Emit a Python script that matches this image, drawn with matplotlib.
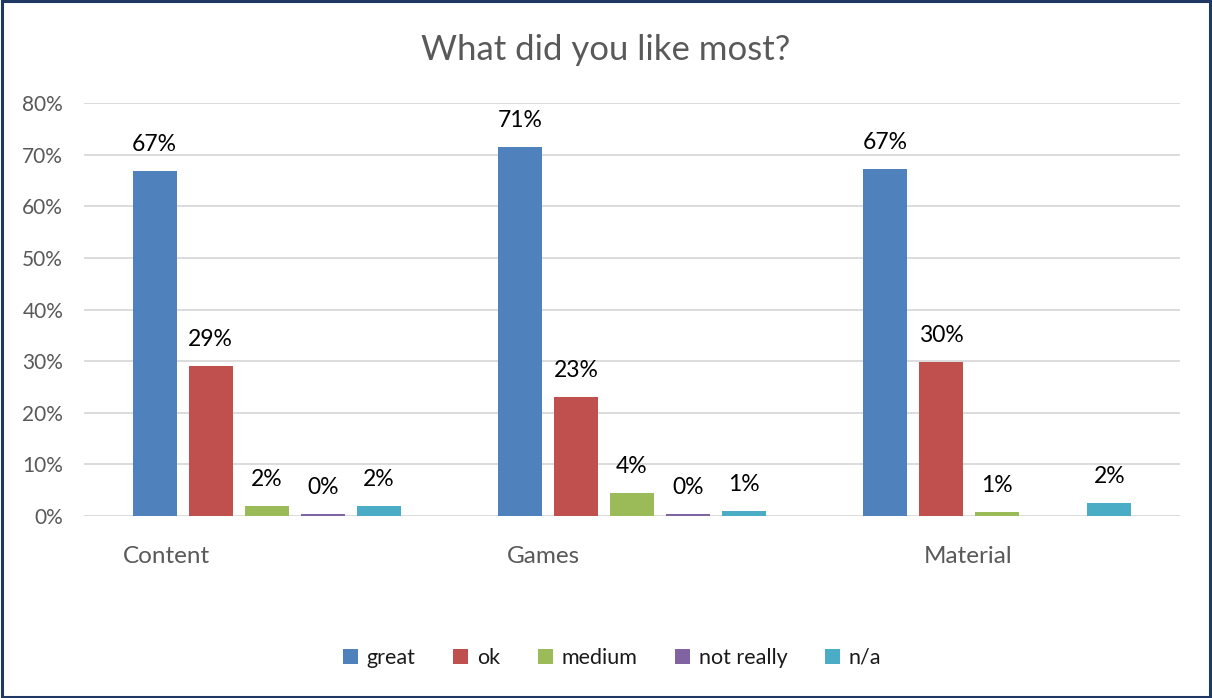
import numpy as np
import matplotlib
matplotlib.use("Agg")
import matplotlib.pyplot as plt
from matplotlib.patches import Rectangle

plt.rcParams['font.family'] = ['Lato', 'DejaVu Sans']

categories = ['Content', 'Games', 'Material']
series = ['great', 'ok', 'medium', 'not really', 'n/a']
colors = ['#4F81BD', '#C0504D', '#9BBB59', '#8064A2', '#4BACC6']

# values in percent, one list per series (Content, Games, Material)
great = [66.9, 71.5, 67.2]
ok = [29.1, 23.1, 29.8]
medium = [1.9, 4.5, 0.8]
not_really = [0.4, 0.4, 0.0]
na = [1.9, 1.0, 2.5]

labels_great = ['67%', '71%', '67%']
labels_ok = ['29%', '23%', '30%']
labels_medium = ['2%', '4%', '1%']
labels_not_really = ['0%', '0%', '']
labels_na = ['2%', '1%', '2%']

values = [great, ok, medium, not_really, na]
labels = [labels_great, labels_ok, labels_medium, labels_not_really, labels_na]

fig = plt.figure(figsize=(12.12, 6.98), dpi=100)
ax = fig.add_axes([84/1212, 182/698, 1096/1212, 413/698])

x = np.arange(len(categories))
width = 0.1205
step = 0.1533
for k, (vals, labs) in enumerate(zip(values, labels)):
    pos = x + (k - 2) * step
    bars = ax.bar(pos, np.array(vals) / 100, width, color=colors[k], label=series[k], zorder=3)
    for b, lab in zip(bars, labs):
        if lab:
            ax.annotate(lab, (b.get_x() + b.get_width() / 2, b.get_height()),
                        xytext=(0, 19), textcoords='offset points',
                        ha='center', va='center', fontsize=16.5, color='black')

ax.set_xlim(-0.5, 2.5)
ax.set_ylim(0, 0.8)
ax.set_yticks(np.arange(0, 0.81, 0.1))
ax.set_yticklabels([f'{int(round(v*100))}%' for v in np.arange(0, 0.81, 0.1)])
ax.tick_params(axis='y', length=0, labelsize=15, labelcolor='#595959', pad=15)
ax.tick_params(axis='x', length=0)
ax.set_xticks([])
ax.grid(axis='y', color='#D9D9D9', linewidth=1.3, zorder=0)
for s in ax.spines.values():
    s.set_visible(False)

# category labels (placed as in the original, left of group centre)
label_offsets = [-0.273, -0.2435, -0.08]
for i, (cat, off) in enumerate(zip(categories, label_offsets)):
    ax.text(i + off, -0.078, cat, ha='center', va='center', fontsize=17.5,
            color='#595959', transform=ax.transData)

fig.text(0.5, 1 - 50/698, 'What did you like most?', ha='center', va='center',
         fontsize=25, color='#595959')

fig.legend(loc='center', bbox_to_anchor=(0.505, 1 - 658/698), ncol=5, frameon=False,
           fontsize=15.5, handlelength=0.7, handleheight=0.7, handletextpad=0.4,
           columnspacing=1.75, labelcolor='#1a1a1a')

fig.patches.append(Rectangle((0.0015, 0.002), 0.997, 0.996, transform=fig.transFigure,
                             fill=False, edgecolor='#1F3864', linewidth=2.2))

fig.savefig('out.png', dpi=100)
